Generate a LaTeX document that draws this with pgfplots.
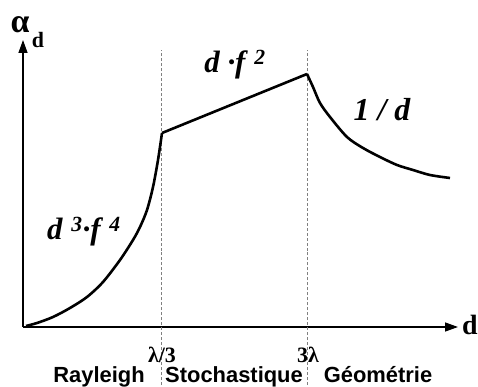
\documentclass[border=0pt]{standalone}
\usepackage{pgfplots}
\pgfplotsset{compat=1.18}
\usepackage{fontspec}
\setmainfont{Liberation Serif}
\setsansfont{Liberation Sans}
\usetikzlibrary{arrows.meta}
\begin{document}
\begin{tikzpicture}
\begin{axis}[
    scale only axis,
    width=435bp, height=287bp,
    xmin=0, xmax=435, ymin=0, ymax=287,
    axis lines=left,
    axis line style={line width=1.3bp, -{Triangle[length=13bp,width=9bp]}},
    xtick=\empty, ytick=\empty,
    clip=false,
    ]
    % region borders
    \addplot[gray, densely dashed, line width=0.6bp] coordinates {(138,-58) (138,277)};
    \addplot[gray, densely dashed, line width=0.6bp] coordinates {(284,-58) (284,277)};
    % Rayleigh
    \addplot[black, line width=2.6bp, smooth] coordinates {
        (3,1) (14,4) (30,10) (47,19) (64,30) (80,45) (97,67) (110,87)
        (117,100) (124,117) (130,140) (135,167) (139,194)};
    % stochastique
    \addplot[black, line width=2.6bp] coordinates {(139,194) (284,253)};
    % geometrie
    \addplot[black, line width=2.6bp, smooth] coordinates {
        (284,253) (290,240) (297,224) (307,210) (324,190) (340,179)
        (357,170) (374,162) (390,157) (407,152) (427,149)};

    \node[anchor=base, font=\fontsize{31}{31}\selectfont\bfseries\itshape] at (axis cs:61,87) {d\,\textsuperscript{\,3}·f\,\textsuperscript{\,4}};
    \node[anchor=base, font=\fontsize{31}{31}\selectfont\bfseries\itshape] at (axis cs:212,254) {d\ ·f\,\textsuperscript{\,2}};
    \node[anchor=base, font=\fontsize{32}{32}\selectfont\bfseries\itshape] at (axis cs:359,206) {1\ /\ d};

    \node[font=\fontsize{34}{34}\selectfont\bfseries] at (axis cs:-3,302) {α};
    \node[font=\fontsize{22}{22}\selectfont\bfseries] at (axis cs:15,287) {d};
    \node[anchor=west, inner sep=0pt, font=\fontsize{28}{28}\selectfont\bfseries] at (axis cs:439,2) {d};

    \node[anchor=base, font=\fontsize{22}{22}\selectfont\bfseries] at (axis cs:139,-35) {λ/3};
    \node[anchor=base, font=\fontsize{22}{22}\selectfont\bfseries] at (axis cs:285,-35) {3λ};

    \node[anchor=base, font=\fontsize{22}{22}\selectfont\sffamily\bfseries] at (axis cs:76,-55) {Rayleigh};
    \node[anchor=base, font=\fontsize{22}{22}\selectfont\sffamily\bfseries] at (axis cs:211,-55) {Stochastique};
    \node[anchor=base, font=\fontsize{22}{22}\selectfont\sffamily\bfseries] at (axis cs:355,-55) {Géométrie};

    \coordinate (bl) at (axis cs:-23,-60);
    \coordinate (tr) at (axis cs:455,327);
\end{axis}
\pgfresetboundingbox
\useasboundingbox (bl) rectangle (tr);
\end{tikzpicture}
\end{document}
